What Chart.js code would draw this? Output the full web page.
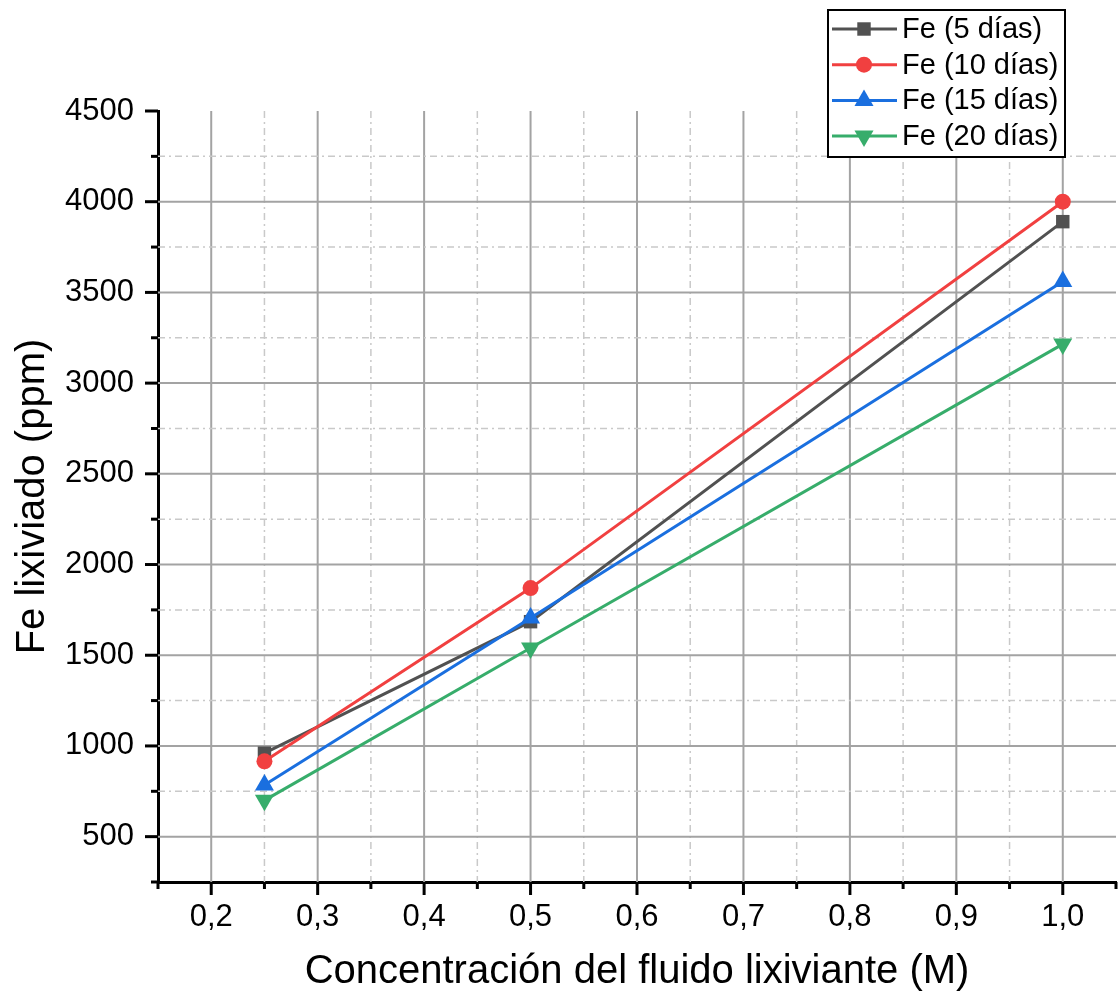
<!DOCTYPE html>
<html lang="es">
<head>
<meta charset="utf-8">
<title>Fe lixiviado</title>
<script src="https://cdn.jsdelivr.net/npm/chart.js@4/dist/chart.umd.min.js"></script>
<style>
  html, body { margin: 0; padding: 0; background: #fff; }
  canvas { display: block; }
</style>
</head>
<body>
<canvas id="lineChart" width="1120" height="1003"></canvas>
<script>
(() => {
  const FONT = "'Liberation Sans', Arial, sans-serif";

  // concentración del fluido (M)
  const concentraciones = [0.25, 0.5, 1.0];

  // Fe lixiviado (ppm) por tiempo de lixiviación
  const fe5dias = [960, 1685, 3890];
  const fe10dias = [915, 1870, 4000];
  const fe15dias = [785, 1705, 3560];
  const fe20dias = [700, 1540, 3215];

  const etiquetas = ["Fe (5 días)", "Fe (10 días)", "Fe (15 días)", "Fe (20 días)"];
  const colores = ["#515151", "#F14040", "#1A6FDF", "#37AD6B"];
  const marcadores = ["rect", "circle", "triangle", "triangle"];
  const rotaciones = [0, 0, 0, 180];
  const radios = [9.5, 8, 11, 11];

  const series = [fe5dias, fe10dias, fe15dias, fe20dias];

  const datasets = series.map((valores, i) => ({
    label: etiquetas[i],
    data: concentraciones.map((c, j) => ({ x: c, y: valores[j] })),
    borderColor: colores[i],
    backgroundColor: colores[i],
    borderWidth: 3,
    pointStyle: marcadores[i],
    pointRotation: rotaciones[i],
    pointRadius: radios[i],
    pointHoverRadius: radios[i],
    pointBorderWidth: 0,
    tension: 0,
    order: series.length - i,
  }));

  const esMayor = (v, paso) => Math.abs(v / paso - Math.round(v / paso)) < 1e-6;

  // rejilla (mayor continua, menor punteada) y marcas de los ejes
  const rejilla = {
    id: "rejilla",
    beforeDatasetsDraw(chart) {
      const { ctx, chartArea: a, scales } = chart;
      ctx.save();
      scales.x.ticks.forEach((t) => {
        const px = scales.x.getPixelForValue(t.value);
        if (px <= a.left + 1 || px >= a.right - 1) return;
        const mayor = esMayor(t.value, 0.1);
        ctx.beginPath();
        ctx.strokeStyle = mayor ? "#a3a3a3" : "#c9c9c9";
        ctx.lineWidth = mayor ? 2 : 1.5;
        ctx.setLineDash(mayor ? [] : [7, 4, 2, 4]);
        ctx.moveTo(px, a.top);
        ctx.lineTo(px, a.bottom);
        ctx.stroke();
      });
      scales.y.ticks.forEach((t) => {
        const py = scales.y.getPixelForValue(t.value);
        if (py <= a.top + 1 || py >= a.bottom - 1) return;
        const mayor = esMayor(t.value, 500);
        ctx.beginPath();
        ctx.strokeStyle = mayor ? "#a3a3a3" : "#c9c9c9";
        ctx.lineWidth = mayor ? 2 : 1.5;
        ctx.setLineDash(mayor ? [] : [7, 4, 2, 4]);
        ctx.moveTo(a.left, py);
        ctx.lineTo(a.right, py);
        ctx.stroke();
      });
      ctx.restore();
    },
    afterDraw(chart) {
      const { ctx, chartArea: a, scales } = chart;
      ctx.save();
      ctx.strokeStyle = "#000";
      ctx.lineWidth = 3;
      ctx.setLineDash([]);
      scales.x.ticks.forEach((t) => {
        const px = scales.x.getPixelForValue(t.value);
        const largo = esMayor(t.value, 0.1) ? 13 : 7;
        ctx.beginPath();
        ctx.moveTo(px, a.bottom);
        ctx.lineTo(px, a.bottom + largo);
        ctx.stroke();
      });
      scales.y.ticks.forEach((t) => {
        const py = scales.y.getPixelForValue(t.value);
        const largo = esMayor(t.value, 500) ? 13 : 7;
        ctx.beginPath();
        ctx.moveTo(a.left, py);
        ctx.lineTo(a.left - largo, py);
        ctx.stroke();
      });
      ctx.restore();
    },
  };

  function dibujarMarcador(ctx, estilo, rot, r, x, y) {
    if (Chart.helpers && Chart.helpers.drawPoint) {
      Chart.helpers.drawPoint(ctx, { pointStyle: estilo, rotation: rot, radius: r, borderWidth: 0 }, x, y);
      return;
    }
    ctx.beginPath();
    ctx.arc(x, y, r, 0, Math.PI * 2);
    ctx.fill();
  }

  // leyenda con recuadro, arriba a la derecha
  const leyenda = {
    id: "leyenda",
    afterDraw(chart) {
      const { ctx } = chart;
      const x0 = 828, y0 = 10, ancho = 237, alto = 147;
      ctx.save();
      ctx.fillStyle = "#fff";
      ctx.fillRect(x0, y0, ancho, alto);
      ctx.strokeStyle = "#000";
      ctx.lineWidth = 2;
      ctx.strokeRect(x0, y0, ancho, alto);
      chart.data.datasets.forEach((ds, i) => {
        const y = 29 + i * 35.7;
        ctx.strokeStyle = ds.borderColor;
        ctx.fillStyle = ds.backgroundColor;
        ctx.lineWidth = 3;
        ctx.beginPath();
        ctx.moveTo(832, y);
        ctx.lineTo(897, y);
        ctx.stroke();
        dibujarMarcador(ctx, ds.pointStyle, ds.pointRotation, ds.pointRadius, 864, y);
        ctx.fillStyle = "#000";
        ctx.font = "29px " + FONT;
        ctx.textBaseline = "middle";
        ctx.textAlign = "left";
        ctx.fillText(ds.label, 902, y + 1);
      });
      ctx.restore();
    },
  };

  new Chart(document.getElementById("lineChart"), {
    type: "line",
    data: { datasets },
    plugins: [rejilla, leyenda],
    options: {
      responsive: false,
      animation: false,
      devicePixelRatio: 1,
      layout: {
        autoPadding: false,
        padding: { top: 111, right: 4, left: 0, bottom: 0 },
      },
      plugins: {
        legend: { display: false },
        tooltip: { enabled: false },
      },
      scales: {
        x: {
          type: "linear",
          min: 0.15,
          max: 1.05,
          afterFit: (s) => {
            s.height = 121;
            s.paddingRight = 0;
            s.paddingLeft = 0;
          },
          ticks: {
            stepSize: 0.05,
            autoSkip: false,
            maxRotation: 0,
            padding: 17,
            color: "#000",
            font: { family: FONT, size: 31 },
            callback: (v) => (esMayor(v, 0.1) ? v.toFixed(1).replace(".", ",") : ""),
          },
          grid: { drawOnChartArea: false, drawTicks: false },
          border: { display: true, color: "#000", width: 3 },
          title: {
            display: true,
            text: "Concentración del fluido lixiviante (M)",
            color: "#000",
            font: { family: FONT, size: 40 },
            padding: { top: 0, bottom: 7 },
          },
        },
        y: {
          min: 250,
          max: 4500,
          afterFit: (s) => { s.width = 158; },
          ticks: {
            stepSize: 250,
            autoSkip: false,
            padding: 24,
            color: "#000",
            font: { family: FONT, size: 31 },
            callback: (v) => (esMayor(v, 500) ? String(v) : ""),
          },
          grid: { drawOnChartArea: false, drawTicks: false },
          border: { display: true, color: "#000", width: 3 },
          title: {
            display: true,
            text: "Fe lixiviado (ppm)",
            color: "#000",
            font: { family: FONT, size: 40 },
            padding: { top: 9, bottom: 0 },
          },
        },
      },
    },
  });
})();
</script>
</body>
</html>
